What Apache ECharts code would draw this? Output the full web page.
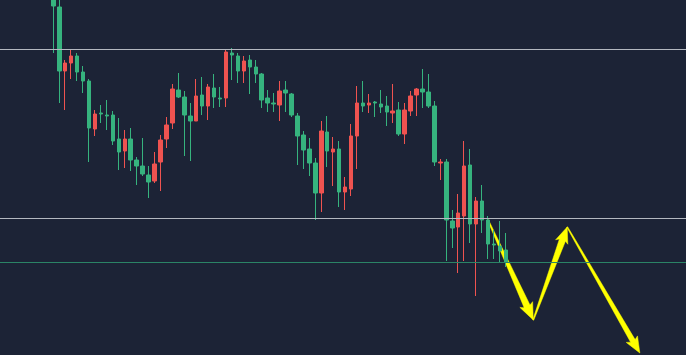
<!DOCTYPE html>
<html>
<head>
<meta charset="utf-8">
<script src="https://cdn.jsdelivr.net/npm/echarts@6/dist/echarts.min.js"></script>
<style>
html,body{margin:0;padding:0;background:#1c2336;}
#chart{width:686px;height:355px;}
</style>
</head>
<body>
<div id="chart"></div>
<script>
// Candle values (price units), one entry per session
const opens  = [363,348,284,292,299,283,274,226,242,240,240,216,204,216,195,189,180,174,193,216,232,265,258,239,234,260,249,267,257,257,302,299,284,295,288,281,257,252,250,265,261,239,220,206,192,162,223,203,206,163,166,219,252,250,253,251,249,242,245,221,244,260,266,263,249,192,193,134,128,139,190,131,154,135,111,109,105];
const closes = [349,284,292,299,283,274,227,241,241,239,214,203,216,195,189,181,173,191,215,230,266,258,240,234,259,249,268,258,256,303,300,284,294,288,281,255,252,251,264,262,240,219,205,192,162,224,204,206,163,168,219,252,249,252,252,248,243,244,221,245,259,266,263,249,193,193,135,127,142,189,131,154,135,111,110,104,93];
const lows   = [302,252,245,276,274,262,193,219,232,225,210,185,187,184,170,179,157,172,164,207,226,257,199,194,234,240,235,247,248,248,275,272,272,261,272,247,243,243,234,243,238,190,186,179,135,143,188,169,148,145,159,186,243,242,238,242,229,232,219,211,239,239,247,247,189,175,94,107,82,94,112,59,122,96,96,93,88];
const highs  = [367,358,295,305,302,289,276,245,250,255,244,237,225,227,198,217,189,203,220,238,271,282,264,252,276,278,271,281,268,305,307,302,299,300,295,282,265,262,274,274,262,242,224,217,197,234,239,218,214,178,231,269,274,261,254,265,259,271,253,252,264,267,286,281,254,196,196,145,161,214,206,158,170,139,125,134,122];

// Horizontal price levels
const resistanceLevels = [306, 137];
const supportLevels = [93];

// Projected path (session index, price)
const pathIdx   = [73.0, 80.6, 86.3, 98.5];
const pathPrice = [135, 35, 128, 2];

const candleData = opens.map((o, i) => [i, o, closes[i], lows[i], highs[i]]);
const arrowData = [];
for (let k = 0; k < pathIdx.length - 1; k++) {
  arrowData.push([pathIdx[k], pathPrice[k], pathIdx[k + 1], pathPrice[k + 1], k]);
}
const headSizes = [[15, 7, 3.2], [14, 6.5, 3.2], [14, 6.5, 2.6]];

const chart = echarts.init(document.getElementById('chart'), null, {renderer: 'canvas'});
chart.setOption({
  backgroundColor: '#1c2336',
  animation: false,
  grid: {left: 0, right: 0, top: 0, bottom: 0},
  xAxis: {type: 'value', min: -8.95, max: 106.25, show: false, splitLine: {show: false}},
  yAxis: {type: 'value', min: 0, max: 355, show: false, splitLine: {show: false}},
  series: [
    {
      type: 'candlestick',
      data: candleData,
      encode: {x: 0, y: [1, 2, 3, 4]},
      barWidth: 4,
      itemStyle: {
        color: '#ef5350', color0: '#36b37e',
        borderColor: '#ef5350', borderColor0: '#36b37e',
        borderWidth: 1
      },
      markLine: {
        silent: true,
        symbol: 'none',
        label: {show: false},
        data: resistanceLevels.map(v => ({yAxis: v, lineStyle: {color: '#b4b8c0', width: 1, type: 'solid'}}))
          .concat(supportLevels.map(v => ({yAxis: v, lineStyle: {color: '#2b8466', width: 1, type: 'solid'}})))
      }
    },
    {
      type: 'custom',
      data: arrowData,
      encode: {x: [0, 2], y: [1, 3]},
      silent: true,
      renderItem: function (params, api) {
        const p0 = api.coord([api.value(0), api.value(1)]);
        const p1 = api.coord([api.value(2), api.value(3)]);
        const hs = headSizes[api.value(4)];
        const dx = p1[0] - p0[0], dy = p1[1] - p0[1];
        const len = Math.sqrt(dx * dx + dy * dy);
        const ux = dx / len, uy = dy / len;
        const nx = -uy, ny = ux;
        const hl = hs[0], hw = hs[1], sw = hs[2];
        const bx = p1[0] - ux * hl, by = p1[1] - uy * hl;
        const s0 = 0.5;
        const pts = [
          [p0[0] + nx * s0, p0[1] + ny * s0],
          [bx + nx * sw, by + ny * sw],
          [bx + nx * hw - ux * 2, by + ny * hw - uy * 2],
          [p1[0], p1[1]],
          [bx - nx * hw - ux * 2, by - ny * hw - uy * 2],
          [bx - nx * sw, by - ny * sw],
          [p0[0] - nx * s0, p0[1] - ny * s0]
        ];
        return {type: 'polygon', shape: {points: pts}, style: {fill: '#ffff00', stroke: '#ffff00', lineWidth: 0.5}};
      }
    }
  ]
});
</script>
</body>
</html>
